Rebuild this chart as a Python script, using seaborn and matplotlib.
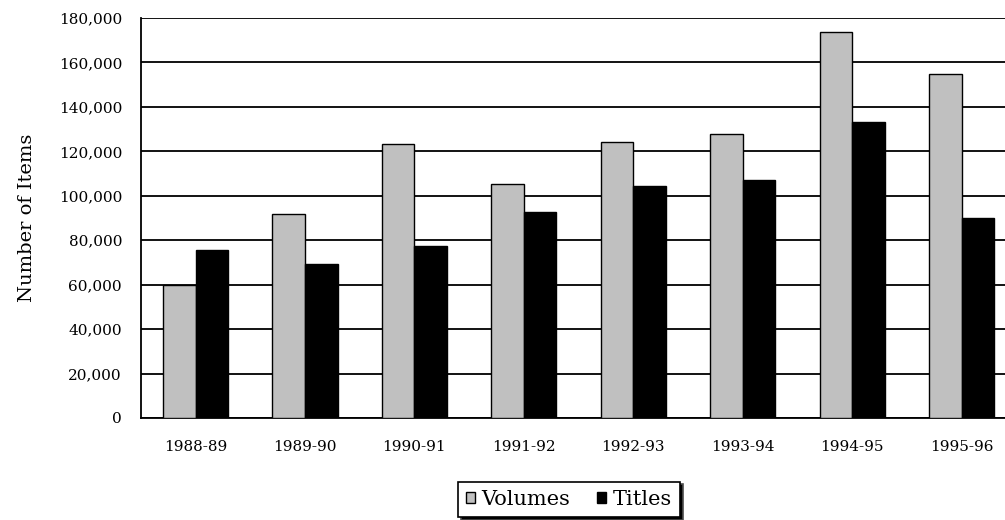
import matplotlib
matplotlib.use("Agg")
import matplotlib.pyplot as plt
from matplotlib.patches import Patch
import pandas as pd
import seaborn as sns

# Acquisitions per fiscal year
years = ["1988-89", "1989-90", "1990-91", "1991-92",
         "1992-93", "1993-94", "1994-95", "1995-96"]
volumes = [60000, 91700, 123200, 105200, 124100, 127700, 173700, 154700]
titles = [75700, 69300, 77400, 92900, 104400, 107100, 133200, 90200]
y_ticks = [0, 20000, 40000, 60000, 80000, 100000, 120000, 140000, 160000, 180000]
series_names = ["Volumes", "Titles"]
series_colors = ["#C0C0C0", "#000000"]

df = pd.DataFrame({
    "Year": years * 2,
    "Items": volumes + titles,
    "Series": [series_names[0]] * len(years) + [series_names[1]] * len(years),
})

sns.set_theme(style="white")
plt.rcParams["font.family"] = ["DejaVu Serif"]
plt.rcParams["text.color"] = "black"

fig = plt.figure(figsize=(10.05, 5.2), dpi=100)
ax = fig.add_axes([0.1401, 0.1962, 0.8712, 0.7692])

sns.barplot(data=df, x="Year", y="Items", hue="Series", order=years,
            hue_order=series_names, palette=series_colors, width=0.595,
            edgecolor="black", linewidth=1.0, legend=False, ax=ax,
            zorder=3)

ax.set_xlim(-0.5, len(years) - 0.5)
ax.set_ylim(0, 180000)
ax.set_yticks(y_ticks)
ax.set_yticklabels([f"{v:,}" for v in y_ticks])
ax.yaxis.grid(True, color="black", linewidth=1.3, zorder=0)
ax.set_axisbelow(True)

for side in ["top", "right"]:
    ax.spines[side].set_visible(False)
for side in ["left", "bottom"]:
    ax.spines[side].set_color("black")
    ax.spines[side].set_linewidth(1.3)

ax.tick_params(axis="y", length=0, pad=13.5, labelsize=11, colors="black")
ax.tick_params(axis="x", length=0, pad=16, labelsize=11, colors="black")
ax.set_xlabel("")
ax.set_ylabel("Number of Items", fontsize=14, color="black", labelpad=16)

handles = [Patch(facecolor=c, edgecolor="black", linewidth=1.0)
           for c in series_colors]
leg = fig.legend(handles, series_names, loc="center",
                 bbox_to_anchor=(0.566, 0.0394), ncol=2, fontsize=15,
                 frameon=True, fancybox=False,
                 shadow={"facecolor": "black", "alpha": 1.0},
                 handlelength=0.45, handleheight=0.45, handletextpad=0.3,
                 columnspacing=1.25, borderpad=0.4, borderaxespad=0.0)
leg.get_frame().set_edgecolor("black")
leg.get_frame().set_linewidth(1.2)
for t in leg.get_texts():
    t.set_color("black")

fig.savefig("out.png", dpi=100)
